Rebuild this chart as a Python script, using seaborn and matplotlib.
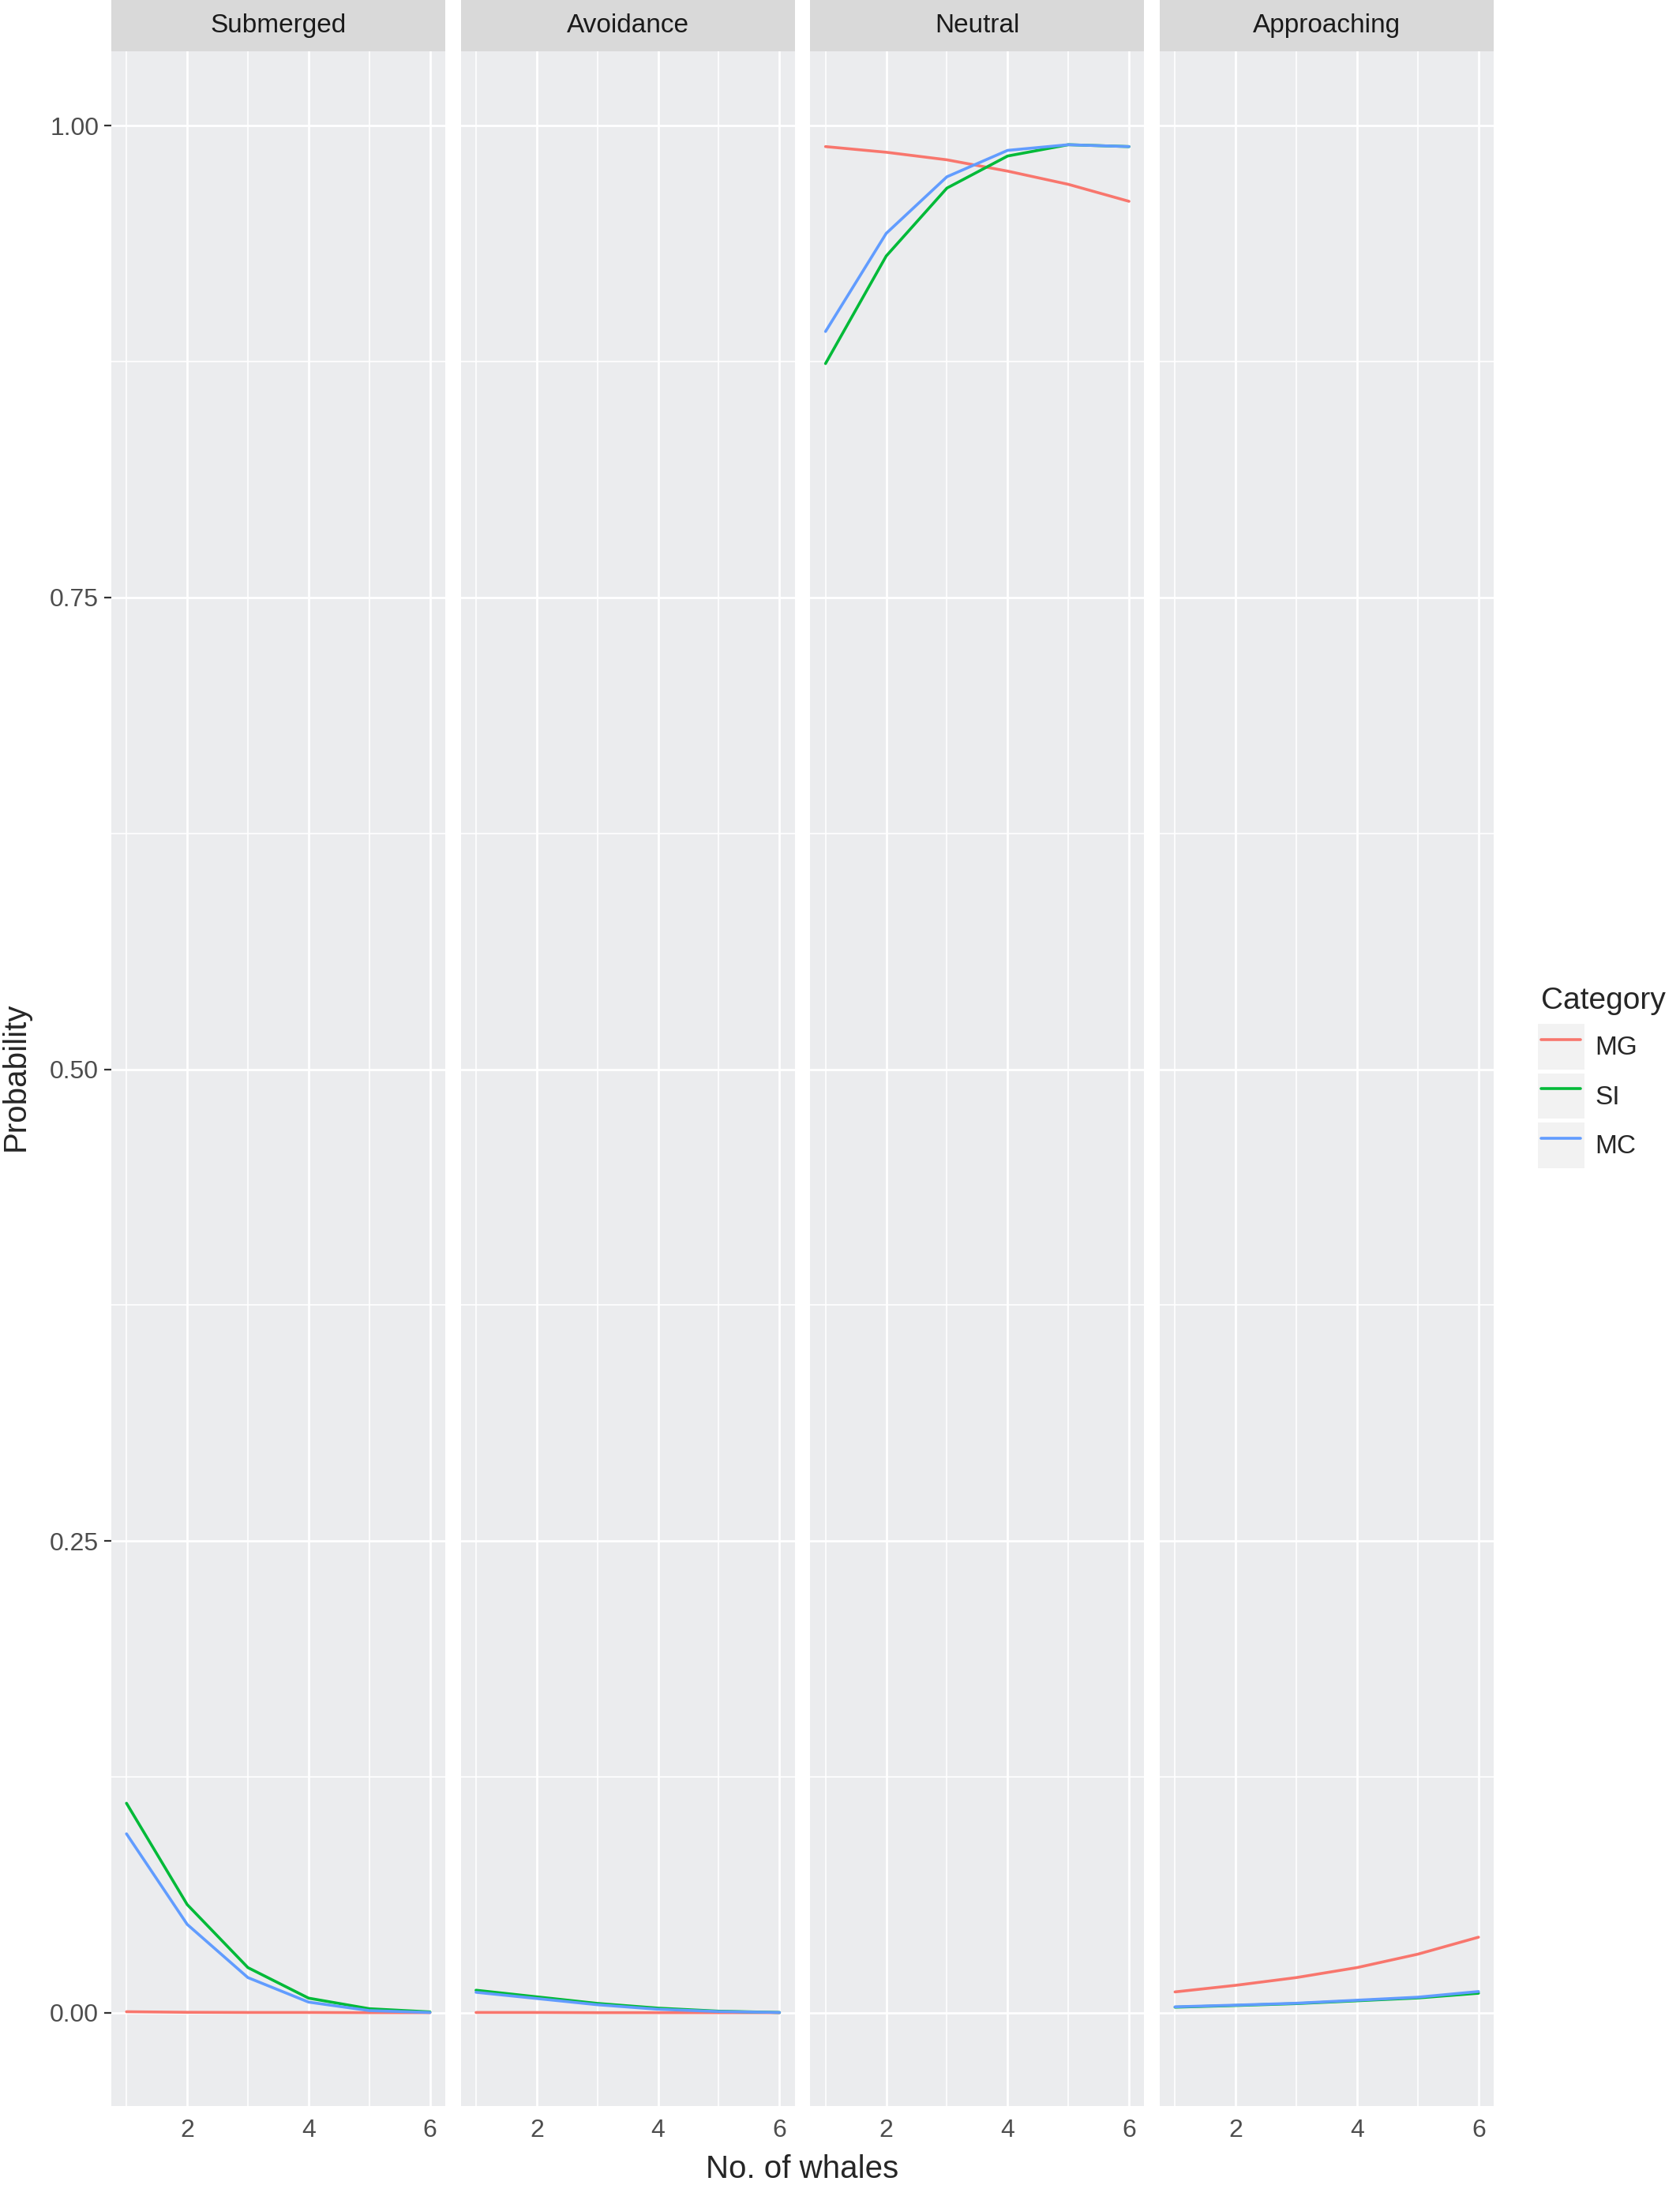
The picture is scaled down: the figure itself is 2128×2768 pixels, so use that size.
import numpy as np
import pandas as pd
import matplotlib
matplotlib.use("Agg")
import matplotlib.pyplot as plt
import seaborn as sns
from matplotlib.lines import Line2D
from matplotlib.patches import Rectangle
from matplotlib.legend_handler import HandlerLine2D
from matplotlib.ticker import MultipleLocator, FixedLocator

# ---------------- data ----------------
panels = ["Submerged", "Avoidance", "Neutral", "Approaching"]
categories = ["MG", "SI", "MC"]
whales = [1, 2, 3, 4, 5, 6]

submerged_MG = [0.0005, 0.0002, 0.0001, 0.0001, 0.0000, 0.0000]
submerged_SI = [0.111, 0.0573, 0.0239, 0.0077, 0.0021, 0.0004]
submerged_MC = [0.0948, 0.0468, 0.0186, 0.0056, 0.0011, 0.0001]

avoidance_MG = [0.0001, 0.0001, 0.0000, 0.0000, 0.0000, 0.0000]
avoidance_SI = [0.0119, 0.0084, 0.0049, 0.0024, 0.0008, 0.0001]
avoidance_MC = [0.0108, 0.0075, 0.0042, 0.0018, 0.0006, 0.0001]

neutral_MG = [0.989, 0.986, 0.982, 0.976, 0.969, 0.960]
neutral_SI = [0.874, 0.931, 0.967, 0.984, 0.990, 0.989]
neutral_MC = [0.891, 0.943, 0.973, 0.987, 0.990, 0.989]

approaching_MG = [0.0110, 0.0145, 0.0186, 0.0239, 0.0310, 0.0400]
approaching_SI = [0.0029, 0.0038, 0.0048, 0.0063, 0.0078, 0.0103]
approaching_MC = [0.0031, 0.0040, 0.0050, 0.0066, 0.0082, 0.0112]

colors = ["#F8766D", "#00BA38", "#619CFF"]

series = {
    ("Submerged", "MG"): submerged_MG, ("Submerged", "SI"): submerged_SI, ("Submerged", "MC"): submerged_MC,
    ("Avoidance", "MG"): avoidance_MG, ("Avoidance", "SI"): avoidance_SI, ("Avoidance", "MC"): avoidance_MC,
    ("Neutral", "MG"): neutral_MG, ("Neutral", "SI"): neutral_SI, ("Neutral", "MC"): neutral_MC,
    ("Approaching", "MG"): approaching_MG, ("Approaching", "SI"): approaching_SI, ("Approaching", "MC"): approaching_MC,
}
rows = []
for (p, c), vals in series.items():
    for x, v in zip(whales, vals):
        rows.append({"Panel": p, "Category": c, "Whales": x, "Probability": v})
df = pd.DataFrame(rows)

# ---------------- style ----------------
sns.set_theme(style="white")
plt.rcParams["font.family"] = ["Liberation Sans", "DejaVu Sans"]

W, H, DPI = 2128, 2768, 200
fig, axes = plt.subplots(1, 4, sharey=True, figsize=(W / DPI, H / DPI), dpi=DPI)
fig.subplots_adjust(left=141 / W, right=1892 / W, top=1 - 65 / H, bottom=1 - 2668 / H, wspace=0.047)

palette = dict(zip(categories, colors))
for ax, p in zip(axes, panels):
    sub = df[df["Panel"] == p]
    sns.lineplot(data=sub, x="Whales", y="Probability", hue="Category", hue_order=categories,
                 palette=palette, ax=ax, legend=False, linewidth=1.3, zorder=3)
    ax.set_facecolor("#EBECEE")
    ax.set_xlim(0.75, 6.25)
    ax.set_ylim(-0.0495, 1.0395)
    ax.xaxis.set_major_locator(MultipleLocator(2))
    ax.xaxis.set_minor_locator(FixedLocator([1, 3, 5]))
    ax.yaxis.set_major_locator(FixedLocator([0, 0.25, 0.5, 0.75, 1.0]))
    ax.yaxis.set_minor_locator(FixedLocator([0.125, 0.375, 0.625, 0.875]))
    ax.grid(which="major", color="white", linewidth=1.0, zorder=1)
    ax.grid(which="minor", color="white", linewidth=0.6, zorder=1)
    ax.set_axisbelow(True)
    for s in ax.spines.values():
        s.set_visible(False)
    ax.tick_params(axis="both", which="major", length=3.2, width=0.8, color="#333333",
                   labelsize=11.5, labelcolor="#4D4D4D", pad=2.5)
    ax.tick_params(axis="both", which="minor", length=0)
    ax.tick_params(axis="y", left=(ax is axes[0]))
    ax.set_xlabel("")
    ax.set_ylabel("")
    # facet strip
    ax.add_patch(Rectangle((0, 1), 1, 65 / 2603, transform=ax.transAxes, clip_on=False,
                           facecolor="#D9D9D9", edgecolor="none", zorder=0))
    ax.text(0.5, 1 + 32.5 / 2603, p, transform=ax.transAxes, ha="center", va="center",
            fontsize=12, color="#1A1A1A")

axes[0].set_yticklabels(["0.00", "0.25", "0.50", "0.75", "1.00"])

fig.text((141 + 1892) / 2 / W, 1 - 2748 / H, "No. of whales", ha="center", va="center", fontsize=14.5)
fig.text(20 / W, 1 - 1364 / H, "Probability", ha="center", va="center", rotation=90, fontsize=14.5)


class KeyHandler(HandlerLine2D):
    def create_artists(self, legend, orig_handle, xdescent, ydescent, width, height, fontsize, trans):
        arts = super().create_artists(legend, orig_handle, xdescent, ydescent, width, height, fontsize, trans)
        pad = 4.5 * 72 / DPI
        rect = Rectangle((-xdescent - pad, -ydescent), width + 2 * pad, height,
                         facecolor="#F2F2F2", edgecolor="none", transform=trans)
        return [rect] + list(arts)


handles = [Line2D([], [], color=c, linewidth=1.3) for c in colors]
leg = fig.legend(handles, categories, loc="center left", bbox_to_anchor=(1952 / W, 1 - 1365 / H),
                 frameon=False, title="Category", fontsize=12, title_fontsize=14,
                 handlelength=1.5, handleheight=2.28, labelspacing=0.15, handletextpad=0.55,
                 borderpad=0, borderaxespad=0, alignment="left",
                 handler_map={Line2D: KeyHandler()})
leg._legend_box.sep = 4

fig.savefig("out.png", dpi=DPI, facecolor="white")
